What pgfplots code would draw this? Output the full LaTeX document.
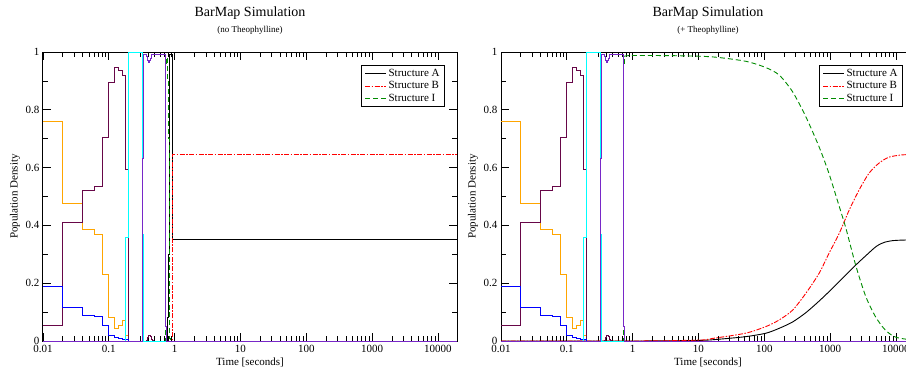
\documentclass[border=0pt]{standalone}
\usepackage{fontspec}
\setmainfont{Liberation Serif}
\usepackage{pgfplots}
\pgfplotsset{compat=1.18}

\definecolor{gOrange}{RGB}{255,165,0}
\definecolor{gMaroon}{RGB}{103,7,72}
\definecolor{gIndigo}{RGB}{120,40,200}
\definecolor{gCyan}{RGB}{0,255,255}
\definecolor{gBlue}{RGB}{0,0,255}
\definecolor{gGreen}{RGB}{0,139,0}
\definecolor{gRed}{RGB}{255,0,0}

\pgfplotsset{
  legend image code/.code={\draw[#1,line width=0.9pt] (0pt,0pt) -- (10pt,0pt); \path (0pt,0pt) -- (21pt,0pt);},
  every axis plot/.append style={line width=0.9pt},
  every tick/.style={black, line width=0.8pt},
}

% early step series (identical in both panels)
\newcommand{\earlyseries}{%
  \addplot[gOrange, const plot, forget plot] coordinates {(0.01,0.76)(0.02,0.475)(0.04,0.385)(0.06,0.37)(0.08,0.23)(0.1,0.08)(0.12,0.045)(0.14,0.055)(0.16,0.07)(0.18,0.02)(0.2,0)(19500,0)};
  \addplot[gMaroon, const plot, forget plot] coordinates {(0.01,0.055)(0.02,0.41)(0.04,0.52)(0.06,0.535)(0.08,0.705)(0.1,0.895)(0.12,0.945)(0.14,0.935)(0.16,0.92)(0.18,0.595)(0.2,0)(0.37,0.003)(0.38,0.008)(0.39,0.014)(0.40,0.018)(0.41,0.02)(0.42,0.02)(0.43,0.017)(0.44,0.012)(0.45,0.006)(0.46,0.002)(0.47,0)(19500,0)};
  \addplot[gBlue, const plot, forget plot] coordinates {(0.01,0.19)(0.02,0.115)(0.04,0.09)(0.06,0.085)(0.08,0.055)(0.1,0.02)(0.12,0.012)(0.14,0.01)(0.16,0.007)(0.18,0.004)(0.2,0)(19500,0)};
  \addplot[gCyan, const plot, forget plot] coordinates {(0.01,0)(0.18,0.36)(0.2,1)(0.32,0.37)(0.34,0)(19500,0)};
  \addplot[gIndigo, const plot, forget plot] coordinates {(0.01,0)(0.32,0.63)(0.34,0.99)(0.36,0.99)(0.37,0.985)(0.38,0.978)(0.39,0.97)(0.40,0.965)(0.41,0.965)(0.42,0.97)(0.43,0.977)(0.44,0.984)(0.45,0.99)(0.70,0.99)(0.72,0.05)(0.74,0)(19500,0)};
}

\begin{document}
\begin{tikzpicture}
\path[use as bounding box] (0pt,0pt) rectangle (906pt,368pt);

% ---------- left panel ----------
\begin{axis}[name=L, at={(43pt,27pt)}, anchor=south west,
    scale only axis, width=414pt, height=289pt,
    xmode=log, xmin=0.01, xmax=19500, ymin=0, ymax=1,
    xtick={0.01,0.1,1,10,100,1000,10000},
    xticklabels={0.01,0.1,1,10,100,1000,10000},
    minor xtick={0.02,0.03,0.04,0.05,0.06,0.07,0.08,0.09,0.2,0.3,0.4,0.5,0.6,0.7,0.8,0.9,2,3,4,5,6,7,8,9,20,30,40,50,60,70,80,90,200,300,400,500,600,700,800,900,2000,3000,4000,5000,6000,7000,8000,9000},
    ytick={0,0.2,0.4,0.6,0.8,1},
    yticklabels={0,0.2,0.4,0.6,0.8,1},
    minor ytick={0.1,0.3,0.5,0.7,0.9},
    xtick pos=both, ytick pos=both,
    xticklabel pos=lower, yticklabel pos=left,
    tick align=inside,
    major tick length=8pt, minor tick length=5pt,
    axis line style={line width=1pt},
    ticklabel style={font=\fontsize{11}{13}\selectfont},
    xticklabel style={yshift=-1pt},
    xlabel={Time [seconds]}, ylabel={Population Density},
    label style={font=\fontsize{11}{13}\selectfont},
    xlabel style={at={(axis description cs:0.5,-0.0727)}, anchor=center},
    ylabel style={at={(axis description cs:-0.0676,0.5)}, anchor=center},
    legend style={at={(1,1)}, anchor=north east, xshift=-12pt, yshift=-13pt,
      draw=black, line width=0.8pt, font=\fontsize{11}{12}\selectfont,
      inner xsep=3pt, inner ysep=1.5pt, row sep=0pt},
    legend cell align=left]
  \addplot[black, const plot] coordinates {(0.01,0)(0.78,0.08)(0.80,0.3)(0.82,0.9)(0.84,0.99)(0.92,0.76)(0.94,0.35)(19500,0.35)};
  \addlegendentry{Structure A}
  \addplot[gRed, dash pattern=on 5pt off 1.5pt on 1.5pt off 1.5pt, const plot] coordinates {(0.01,0)(0.92,0.235)(0.94,0.645)(19500,0.645)};
  \addlegendentry{Structure B}
  \addplot[gGreen, dash pattern=on 5pt off 3pt, const plot] coordinates {(0.01,0)(0.72,0.95)(0.74,0.98)(0.78,0.9)(0.80,0.7)(0.82,0.1)(0.84,0.01)(0.86,0)(19500,0)};
  \addlegendentry{Structure I}
  \earlyseries
\end{axis}
\node[font=\fontsize{14}{16}\selectfont, yshift=39pt] at (L.north) {BarMap Simulation};
\node[font=\fontsize{9}{10}\selectfont, yshift=22pt] at (L.north) {(no Theophylline)};

% ---------- right panel ----------
\begin{axis}[name=R, at={(501pt,27pt)}, anchor=south west,
    scale only axis, width=414pt, height=289pt,
    xmode=log, xmin=0.01, xmax=19500, ymin=0, ymax=1,
    xtick={0.01,0.1,1,10,100,1000,10000},
    xticklabels={0.01,0.1,1,10,100,1000,10000},
    minor xtick={0.02,0.03,0.04,0.05,0.06,0.07,0.08,0.09,0.2,0.3,0.4,0.5,0.6,0.7,0.8,0.9,2,3,4,5,6,7,8,9,20,30,40,50,60,70,80,90,200,300,400,500,600,700,800,900,2000,3000,4000,5000,6000,7000,8000,9000},
    ytick={0,0.2,0.4,0.6,0.8,1},
    yticklabels={0,0.2,0.4,0.6,0.8,1},
    minor ytick={0.1,0.3,0.5,0.7,0.9},
    xtick pos=both, ytick pos=both,
    xticklabel pos=lower, yticklabel pos=left,
    tick align=inside,
    major tick length=8pt, minor tick length=5pt,
    axis line style={line width=1pt},
    ticklabel style={font=\fontsize{11}{13}\selectfont},
    xticklabel style={yshift=-1pt},
    xlabel={Time [seconds]}, ylabel={Population Density},
    label style={font=\fontsize{11}{13}\selectfont},
    xlabel style={at={(axis description cs:0.5,-0.0727)}, anchor=center},
    ylabel style={at={(axis description cs:-0.0676,0.5)}, anchor=center},
    legend style={at={(1,1)}, anchor=north east, xshift=-12pt, yshift=-13pt,
      draw=black, line width=0.8pt, font=\fontsize{11}{12}\selectfont,
      inner xsep=3pt, inner ysep=1.5pt, row sep=0pt},
    legend cell align=left]
  \addplot[black, smooth, tension=0.45] coordinates {(0.01,0)(1,0)(10,0.002)(20,0.006)(52,0.015)(106,0.027)(169,0.044)(270,0.066)(428,0.098)(680,0.138)(1084,0.182)(1727,0.228)(2592,0.268)(3890,0.305)(4700,0.322)(5500,0.333)(6800,0.342)(8700,0.347)(12000,0.349)(19500,0.35)};
  \addlegendentry{Structure A}
  \addplot[gRed, dash pattern=on 5pt off 1.5pt on 1.5pt off 1.5pt, smooth, tension=0.45] coordinates {(0.01,0)(1,0)(10,0.003)(16.5,0.009)(52,0.027)(106,0.05)(169,0.073)(270,0.107)(428,0.165)(680,0.234)(960,0.303)(1380,0.373)(1950,0.453)(2750,0.522)(3890,0.58)(5500,0.615)(7800,0.636)(12400,0.644)(19500,0.645)};
  \addlegendentry{Structure B}
  \addplot[gGreen, dash pattern=on 5pt off 3pt, smooth, tension=0.45] coordinates {(0.74,0.985)(1,0.988)(5,0.987)(16.5,0.983)(52,0.968)(106,0.946)(169,0.92)(270,0.862)(428,0.776)(680,0.672)(960,0.58)(1380,0.465)(1740,0.39)(2450,0.262)(3470,0.155)(4900,0.084)(6900,0.038)(10000,0.013)(19500,0.002)};
  \addlegendentry{Structure I}
  \addplot[gGreen, dash pattern=on 5pt off 3pt, forget plot] coordinates {(0.01,0)(0.72,0)(0.72,0.95)(0.74,0.95)(0.74,0.985)};
  \earlyseries
\end{axis}
\node[font=\fontsize{14}{16}\selectfont, yshift=39pt] at (R.north) {BarMap Simulation};
\node[font=\fontsize{9}{10}\selectfont, yshift=22pt] at (R.north) {(+ Theophylline)};
\end{tikzpicture}
\end{document}
